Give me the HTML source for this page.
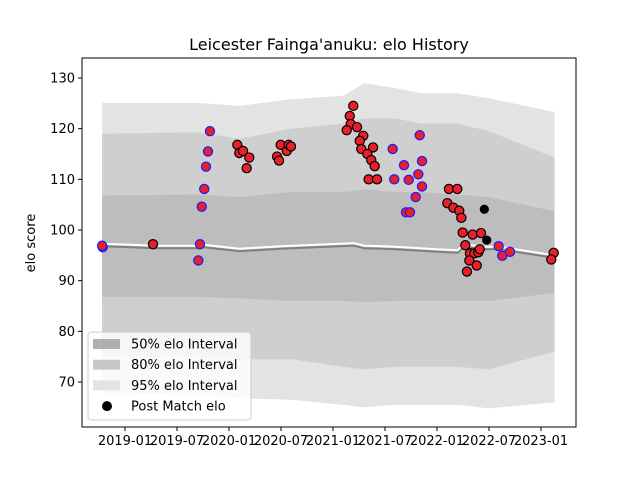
<!DOCTYPE html>
<html><head><meta charset="utf-8"><style>
body{margin:0;background:#fff;font-family:"Liberation Sans","DejaVu Sans",sans-serif}
svg text{font-family:"DejaVu Sans","Liberation Sans",sans-serif}
</style></head><body>
<svg id="chart" width="640" height="480" xmlns="http://www.w3.org/2000/svg">
<rect width="640" height="480" fill="#fff"/>
<text x="329" y="50" font-size="16" text-anchor="middle">Leicester Fainga'anuku: elo History</text>
<g id="plot"></g>
<text transform="translate(35,243) rotate(-90)" font-size="13" text-anchor="middle">elo score</text>
</svg>
<script>
const bandYears=[2018.78,2019.7,2020.1,2020.6,2021.1,2021.3,2021.6,2021.85,2022.2,2022.5,2023.13];
const up95=[125.1,125.1,124.5,125.8,126.5,129,128,127,127,126,123.3];
const lo95=[67.8,67.5,66.8,66.5,65.5,65,65.5,65.5,65.5,64.8,66];
const up80=[119,119.3,118,120,121,122,122,121,121,119.5,114.3];
const lo80=[75,75,74.5,74.5,73,72.5,73,73,73,72.5,76];
const up50=[106.8,107,106.5,107.5,107.5,108,107.5,107.5,107,106.5,103.7];
const lo50=[86.8,86.8,86.5,86,86,85.8,86,86,86,86,87.6];
const meanYears=[2018.78,2019.3,2019.72,2019.75,2020.1,2020.5,2021.2,2021.3,2021.6,2022.0,2022.2,2022.26,2022.45,2022.6,2023.13];
const meanVals=[97.3,96.9,96.9,97.1,96.3,96.8,97.4,96.9,96.7,96.2,96.0,97.2,96.7,96.7,95.0];
const ptYears=[2018.786,2018.78,2019.269,2019.721,2019.705,2019.738,2019.762,2019.779,2019.798,2019.817,2020.080,2020.099,2020.135,2020.195,2020.170,2020.462,2020.481,2020.497,2020.555,2020.574,2020.596,2021.195,2021.161,2021.170,2021.132,2021.231,2021.291,2021.257,2021.272,2021.385,2021.330,2021.368,2021.401,2021.343,2021.423,2021.834,2021.574,2021.856,2021.683,2021.589,2021.728,2021.820,2021.856,2021.795,2021.702,2021.740,2022.115,2022.195,2022.099,2022.157,2022.214,2022.234,2022.247,2022.343,2022.423,2022.272,2022.317,2022.359,2022.397,2022.411,2022.311,2022.382,2022.288,2022.593,2022.628,2022.702,2023.122,2023.099];
const ptVals=[96.6,96.9,97.2,97.2,94.0,104.6,108.1,112.5,115.5,119.5,116.8,115.2,115.6,114.3,112.2,114.5,113.7,116.8,115.6,116.8,116.5,124.5,122.5,120.9,119.7,120.3,118.6,117.6,116.0,116.3,115.0,113.8,112.6,110.0,110.0,118.7,116.0,113.6,112.8,110.0,109.9,111.0,108.6,106.5,103.5,103.5,108.1,108.1,105.3,104.4,103.8,102.4,99.5,99.1,99.4,97.0,95.4,95.4,95.6,96.2,94.0,93.0,91.8,96.8,94.9,95.7,95.5,94.2];
const ptBlueEdge=[1,1,0,1,1,1,1,1,1,1,0,0,0,0,0,0,0,0,0,0,0,0,0,0,0,0,0,0,0,0,0,0,0,0,0,1,1,1,1,1,1,1,1,1,1,1,0,0,0,0,0,0,0,0,0,0,0,0,0,0,0,0,0,1,1,1,0,0];
const postYears=[2022.455,2022.478];
const postVals=[104.1,98.0];
const yTicks=[70,80,90,100,110,120,130];
const xTickYears=[2019.0,2019.5,2020.0,2020.5,2021.0,2021.5,2022.0,2022.5,2023.0];
const xTickLabels=["2019-01","2019-07","2020-01","2020-07","2021-01","2021-07","2022-01","2022-07","2023-01"];

const L=82,R=576,T=58,B=427;
const X=yr=>125+(yr-2019)*104;
const Y=v=>78+(130-v)*50.67/10;
const NS="http://www.w3.org/2000/svg";
const g=document.getElementById('plot');
function mk(tag,attrs){const e=document.createElementNS(NS,tag);for(const k in attrs)e.setAttribute(k,attrs[k]);g.appendChild(e);return e;}
function band(up,lo,fill,name){
  let d="M"+bandYears.map((t,i)=>X(t)+","+Y(up[i])).join("L");
  d+="L"+bandYears.slice().reverse().map((t,j)=>{const i=bandYears.length-1-j;return X(t)+","+Y(lo[i]);}).join("L")+"Z";
  const p=mk('path',{d:d,fill:fill});
  
  
}
band(up95,lo95,"#e3e3e3","band-95");
band(up80,lo80,"#cfcfcf","band-80");
band(up50,lo50,"#bdbdbd","band-50");
const gl=mk('polyline',{points:meanYears.map((t,i)=>X(t)+","+(Y(meanVals[i])+2.5)).join(" "),fill:"none",stroke:"#808080","stroke-width":2});


const wl=mk('polyline',{points:meanYears.map((t,i)=>X(t)+","+Y(meanVals[i])).join(" "),fill:"none",stroke:"#fff","stroke-width":2});


ptYears.forEach((t,i)=>{
  const c=mk('circle',{cx:X(t),cy:Y(ptVals[i]),r:4.6,fill:"#e8202a",stroke:ptBlueEdge[i]?"#1a1aff":"#000","stroke-width":1.2});
  
  
});
postYears.forEach((t,i)=>{
  const c=mk('circle',{cx:X(t),cy:Y(postVals[i]),r:4.6,fill:"#000"});
  
  
});
const fr=mk('rect',{x:L,y:T,width:R-L,height:B-T,fill:"none",stroke:"#000","stroke-width":1});


yTicks.forEach(v=>{
  mk('line',{x1:L-4,x2:L,y1:Y(v),y2:Y(v),stroke:"#000"});
  const tx=mk('text',{x:L-7,y:Y(v)+4.5,"font-size":13,"text-anchor":"end"});
  tx.textContent=v;
  
  
});
xTickYears.forEach((t,i)=>{
  mk('line',{x1:X(t),x2:X(t),y1:B,y2:B+4,stroke:"#000"});
  const tx=mk('text',{x:X(t),y:B+18,"font-size":13,"text-anchor":"middle"});
  tx.textContent=xTickLabels[i];
  
  
});
// legend
const lg=mk('rect',{x:88,y:332,width:163,height:88,rx:3,fill:"#fff","fill-opacity":0.8,stroke:"#ccc"});


const legCols=["#b0b0b0","#c8c8c8","#e3e3e3"];
const legText=["50% elo Interval","80% elo Interval","95% elo Interval","Post Match elo"];
legText.forEach((s,i)=>{
  const cy=344+i*20.7;
  if(i<3){const r=mk('rect',{x:93,y:cy-5,width:27,height:10,fill:legCols[i]});
    
    }
  else {const c=mk('circle',{cx:107,cy:cy,r:5,fill:"#000"});
    
    }
  const tx=mk('text',{x:131,y:cy+4.5,"font-size":13});
  tx.textContent=s;
  
  
});
</script>
</body></html>
